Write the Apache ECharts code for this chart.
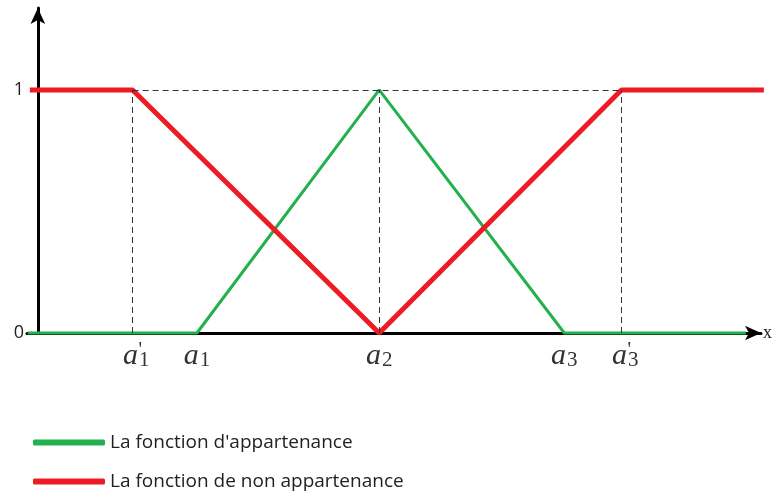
<!DOCTYPE html>
<html>
<head>
<meta charset="utf-8">
<script src="https://cdn.jsdelivr.net/npm/echarts@6/dist/echarts.min.js"></script>
<style>
  html, body { margin: 0; padding: 0; background: #fff; }
  #main { width: 775px; height: 498px; }
</style>
</head>
<body>
<div id="main"></div>
<script>
  // positions of the points on the x axis (a1', a1, a2, a3, a3')
  var xTickVals = [1.31, 2.2, 4.72, 7.28, 8.07];
  var xTickNames = ["a1'", 'a1', 'a2', 'a3', "a3'"];
  var yTickVals = [0, 1];

  // appartenance (vert)
  var greenX = [-0.14, 2.2, 4.72, 7.28, 9.79];
  var greenY = [0, 0, 1, 0, 0];
  // non appartenance (rouge)
  var redX = [-0.11, 1.31, 4.72, 8.07, 10.04];
  var redY = [1, 1, 0, 1, 1];

  var seriesNames = ["La fonction d'appartenance", 'La fonction de non appartenance'];

  function pairs(xs, ys) {
    return xs.map(function (x, i) { return [x, ys[i]]; });
  }

  // dashed guide lines: verticals at a1', a2, a3' and the horizontal at 1
  var guideX = [xTickVals[0], xTickVals[2], xTickVals[4]];
  var guides = guideX.map(function (x) {
    return [{ coord: [x, 0] }, { coord: [x, 1] }];
  });
  guides.push([{ coord: [xTickVals[0], 1] }, { coord: [xTickVals[4], 1] }]);

  var chart = echarts.init(document.getElementById('main'));
  chart.setOption({
    animation: false,
    grid: { left: 27, right: 10, top: 8, bottom: 165 },
    legend: {
      orient: 'vertical',
      left: 28,
      top: 428,
      itemWidth: 72,
      itemHeight: 6,
      itemGap: 20,
      icon: 'roundRect',
      textStyle: { fontFamily: 'Open Sans', fontSize: 19, color: '#222' },
      data: seriesNames
    },
    xAxis: {
      type: 'value',
      min: -0.15,
      max: 10,
      name: 'x',
      nameLocation: 'end',
      nameGap: 2,
      nameTextStyle: { fontFamily: 'Liberation Serif', fontSize: 18, color: '#222', padding: [12, 0, 0, 0] },
      axisLine: {
        onZero: true,
        symbol: ['none', 'arrow'],
        symbolSize: [11, 16],
        lineStyle: { color: '#000', width: 3 }
      },
      axisTick: { show: false },
      splitLine: { show: false },
      axisLabel: {
        customValues: xTickVals,
        margin: 8,
        formatter: function (v) {
          var i = xTickVals.indexOf(v);
          if (i < 0) return '';
          var n = xTickNames[i];
          var s = '{a|a}{s|' + n.charAt(1) + '}';
          if (n.length > 2) s = '{a|a}{s|' + n.charAt(1) + '}{p|\'}';
          return s;
        },
        rich: {
          a: { fontFamily: 'Liberation Serif', fontStyle: 'italic', fontSize: 30, color: '#333', verticalAlign: 'top', lineHeight: 30 },
          s: { fontFamily: 'Liberation Serif', fontSize: 21, color: '#333', verticalAlign: 'bottom', lineHeight: 22, padding: [0, 0, 0, 1] },
          p: { fontFamily: 'Liberation Serif', fontSize: 20, color: '#333', verticalAlign: 'top', lineHeight: 20, padding: [0, 0, 0, -11] }
        }
      }
    },
    yAxis: {
      type: 'value',
      min: 0,
      max: 1.337,
      interval: 1,
      axisLine: {
        onZero: true,
        symbol: ['none', 'arrow'],
        symbolSize: [11, 16],
        lineStyle: { color: '#000', width: 3 }
      },
      axisTick: { show: false },
      splitLine: { show: false },
      axisLabel: {
        margin: 3,
        fontFamily: 'Open Sans',
        fontSize: 18,
        color: '#222',
        formatter: function (v) {
          return yTickVals.indexOf(v) >= 0 ? String(v) : '';
        }
      }
    },
    series: [
      {
        name: seriesNames[0],
        type: 'line',
        data: pairs(greenX, greenY),
        symbol: 'none',
        clip: false,
        color: '#22b14c',
        lineStyle: { width: 3, color: '#22b14c' },
        z: 3,
        markLine: {
          silent: true,
          symbol: 'none',
          label: { show: false },
          lineStyle: { type: [6, 4], color: '#333', width: 1 },
          data: guides
        }
      },
      {
        name: seriesNames[1],
        type: 'line',
        data: pairs(redX, redY),
        symbol: 'none',
        clip: false,
        color: '#ed1c24',
        lineStyle: { width: 5, color: '#ed1c24' },
        z: 4
      }
    ]
  });
</script>
</body>
</html>
